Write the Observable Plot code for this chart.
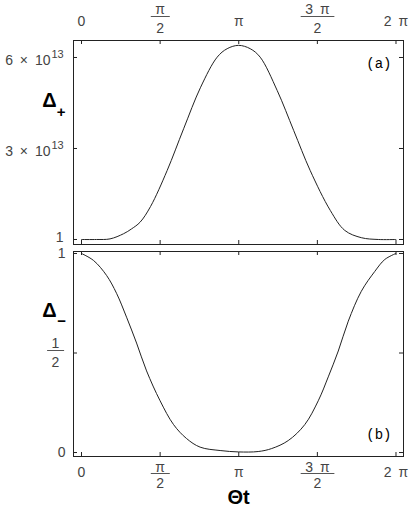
<!DOCTYPE html>
<html><head><meta charset="utf-8">
<script src="https://cdn.jsdelivr.net/npm/d3@7"></script>
<script src="https://cdn.jsdelivr.net/npm/@observablehq/plot@0.6"></script>
<style>
body{margin:0;background:#fff;width:415px;height:508px;overflow:hidden;position:relative}
#top{position:absolute;left:0;top:0}
#bot{position:absolute;left:0;top:248px}
svg{display:block;overflow:visible}
svg text{word-spacing:3px}
</style></head><body>
<div id="top"></div><div id="bot"></div>
<script>
// Δ+ (panel a)
const thetaPlus = [0, 0.3, 0.57, 0.84, 1.0, 1.17, 1.38, 1.71, 2.04, 2.38, 2.71, 2.91, 3.14, 3.37, 3.57, 3.91, 4.24, 4.57, 4.97, 5.26, 5.59, 5.93, 6.28];
const deltaPlus = [1, 1, 0.02e13, 0.19e13, 0.35e13, 0.57e13, 1.09e13, 2.27e13, 3.65e13, 5.02e13, 6.01e13, 6.29e13, 6.4e13, 6.29e13, 6.01e13, 4.91e13, 3.59e13, 2.27e13, 0.96e13, 0.3e13, 0.06e13, 1, 1];
// Δ- (panel b)
const thetaMinus = [0, 0.24, 0.5, 0.7, 0.9, 1.1, 1.3, 1.57, 1.84, 2.1, 2.37, 2.77, 3.14, 3.53, 3.8, 4.13, 4.46, 4.73, 4.93, 5.13, 5.33, 5.59, 5.86, 6.06, 6.28];
const deltaMinus = [1, 0.965, 0.89, 0.8, 0.68, 0.55, 0.41, 0.26, 0.14, 0.07, 0.027, 0.01, 0.003, 0.005, 0.02, 0.06, 0.14, 0.26, 0.38, 0.51, 0.66, 0.81, 0.91, 0.97, 1];

const xTickValues = [0, Math.PI / 2, Math.PI, 3 * Math.PI / 2, 2 * Math.PI];
const xTickLabels = ["0", "π/2", "π", "3 π/2", "2 π"];
const yTickValuesTop = [1, 3e13, 6e13];
const yTickLabelsTop = ["1", "3 × 10^13", "6 × 10^13"];
const yTickValuesBot = [0, 0.5, 1];
const yTickLabelsBot = ["0", "1/2", "1"];

const W = 415, ML = 73, MR = 12;
const FW = W - ML - MR;
const xDomain = [-0.16, 2 * Math.PI + 0.15];
const labelFont = {fontFamily: "Liberation Sans, Arial, sans-serif", fontSize: 14, fill: "#444"};
const ink = "#222";

function rows(values, labels) {
  return values.map((v, i) => {
    const L = labels[i];
    if (L.includes("/")) { const p = L.split("/"); return {v, num: p[0], den: p[1]}; }
    if (L.includes("^")) { const p = L.split("^"); return {v, base: p[0], exp: p[1]}; }
    return {v, whole: L};
  });
}

function xLabelMarks(rs, side) {
  const top = side === "top";
  return [
    Plot.text(rs.filter(d => d.whole), {x: "v", text: "whole", frameAnchor: side, lineAnchor: "middle", dy: top ? -19 : 16, ...labelFont}),
    Plot.text(rs.filter(d => d.num), {x: "v", text: "num", frameAnchor: side, lineAnchor: "middle", dy: top ? -31 : 11, ariaDescription: "frac-num", ...labelFont}),
    Plot.text(rs.filter(d => d.den), {x: "v", text: "den", frameAnchor: side, lineAnchor: "middle", dy: top ? -12 : 27, ariaDescription: "frac-den", ...labelFont})
  ];
}

function yLabelMarks(rs, dxWhole, dyWhole) {
  return [
    Plot.text(rs.filter(d => d.whole), {y: "v", text: "whole", frameAnchor: "left", textAnchor: "end", lineAnchor: "middle", dx: dxWhole, dy: dyWhole, ...labelFont}),
    Plot.text(rs.filter(d => d.base), {y: "v", text: "base", frameAnchor: "left", textAnchor: "end", lineAnchor: "middle", dx: -23, dy: 3, ...labelFont}),
    Plot.text(rs.filter(d => d.exp), {y: "v", text: "exp", frameAnchor: "left", textAnchor: "start", lineAnchor: "middle", dx: -22, dy: -3, ...labelFont, fontSize: 11}),
    Plot.text(rs.filter(d => d.num), {y: "v", text: "num", frameAnchor: "left", textAnchor: "middle", lineAnchor: "middle", dx: -18, dy: -9, ariaDescription: "frac-num", ...labelFont}),
    Plot.text(rs.filter(d => d.den), {y: "v", text: "den", frameAnchor: "left", textAnchor: "middle", lineAnchor: "middle", dx: -18, dy: 10, ariaDescription: "frac-den", ...labelFont})
  ];
}

function tickMarks(xv, yv, FH) {
  const st = {stroke: ink, strokeWidth: 1};
  return [
    Plot.tickY(yv, {y: d => d, insetRight: FW - 4, ...st}),
    Plot.tickY(yv, {y: d => d, insetLeft: FW - 4, ...st}),
    Plot.tickX(xv, {x: d => d, insetBottom: FH - 4, ...st}),
    Plot.tickX(xv, {x: d => d, insetTop: FH - 4, ...st})
  ];
}

function addBars(svg) {
  const sr = svg.getBoundingClientRect();
  const nums = svg.querySelectorAll('g[aria-description="frac-num"] text');
  const dens = svg.querySelectorAll('g[aria-description="frac-den"] text');
  nums.forEach((n, i) => {
    const a = n.getBoundingClientRect(), b = dens[i].getBoundingClientRect();
    const cx = (a.left + a.right) / 2 - sr.left;
    const w = Math.max(a.width, b.width) + 9;
    const cn = (a.top + a.bottom) / 2, cd = (b.top + b.bottom) / 2;
    const y = Math.round(cn + 0.35 * (cd - cn) - sr.top) + 0.5;
    d3.select(svg).append("line")
      .attr("x1", cx - w / 2).attr("x2", cx + w / 2)
      .attr("y1", y).attr("y2", y)
      .attr("stroke", "#555").attr("stroke-width", 1);
  });
}

const bold = {fontFamily: "Liberation Sans, Arial, sans-serif", fontWeight: "bold", fill: "#000"};

// Top panel
const FHt = 204;
const topPlot = Plot.plot({
  width: W, height: 248,
  marginLeft: ML, marginRight: MR, marginTop: 40, marginBottom: 4,
  x: {domain: xDomain, axis: null},
  y: {domain: [-0.165e13, 6.56e13], axis: null},
  marks: [
    Plot.line(thetaPlus.map((t, i) => ({t, v: deltaPlus[i]})), {x: "t", y: "v", curve: "catmull-rom", stroke: ink, strokeWidth: 1}),
    ...tickMarks(xTickValues, yTickValuesTop, FHt),
    Plot.frame({stroke: ink, strokeWidth: 1}),
    ...xLabelMarks(rows(xTickValues, xTickLabels), "top"),
    ...yLabelMarks(rows(yTickValuesTop, yTickLabelsTop), -10, -2),
    Plot.text(["Δ"], {text: d => d, frameAnchor: "top-left", textAnchor: "end", lineAnchor: "middle", dx: -17, dy: 60, fontSize: 20, ...bold}),
    Plot.text(["+"], {text: d => d, frameAnchor: "top-left", textAnchor: "middle", lineAnchor: "middle", dx: -12.5, dy: 72, fontSize: 15, ...bold}),
    Plot.text(["(a)"], {text: d => d, frameAnchor: "top-right", textAnchor: "end", lineAnchor: "middle", dx: -12, dy: 23, fontFamily: "Liberation Mono, monospace", fontSize: 14, fill: "#000"})
  ]
});
document.getElementById("top").appendChild(topPlot);
addBars(topPlot);

// Bottom panel
const FHb = 205;
const botPlot = Plot.plot({
  width: W, height: 260,
  marginLeft: ML, marginRight: MR, marginTop: 3, marginBottom: 52,
  x: {domain: xDomain, axis: null},
  y: {domain: [-0.02, 1.01], axis: null},
  marks: [
    Plot.line(thetaMinus.map((t, i) => ({t, v: deltaMinus[i]})), {x: "t", y: "v", curve: "catmull-rom", stroke: ink, strokeWidth: 1}),
    ...tickMarks(xTickValues, yTickValuesBot, FHb),
    Plot.frame({stroke: ink, strokeWidth: 1}),
    ...xLabelMarks(rows(xTickValues, xTickLabels), "bottom"),
    ...yLabelMarks(rows(yTickValuesBot, yTickLabelsBot), -8, 0),
    Plot.text(["Δ"], {text: d => d, frameAnchor: "top-left", textAnchor: "end", lineAnchor: "middle", dx: -17, dy: 59, fontSize: 20, ...bold}),
    Plot.text(["−"], {text: d => d, frameAnchor: "top-left", textAnchor: "middle", lineAnchor: "middle", dx: -12, dy: 70, fontSize: 15, ...bold}),
    Plot.text(["(b)"], {text: d => d, frameAnchor: "bottom-right", textAnchor: "end", lineAnchor: "middle", dx: -12, dy: -22, fontFamily: "Liberation Mono, monospace", fontSize: 14, fill: "#000"}),
    Plot.text(["Θt"], {text: d => d, frameAnchor: "bottom", lineAnchor: "middle", dy: 41, fontSize: 20, ...bold})
  ]
});
document.getElementById("bot").appendChild(botPlot);
addBars(botPlot);
</script>
</body></html>
